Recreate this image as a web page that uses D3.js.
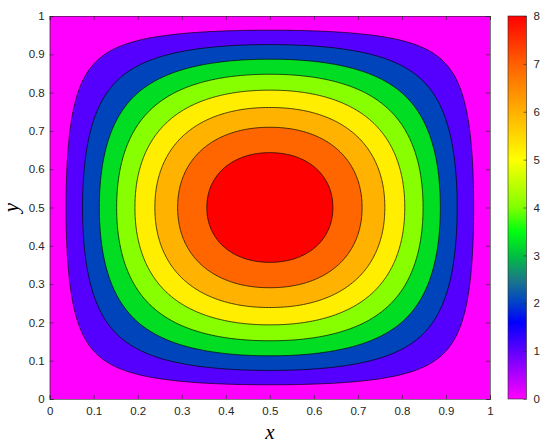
<html>
<head>
<script src="https://d3js.org/d3.v7.min.js"></script>
<style>
  body { margin: 0; background: #fff; }
  svg { font-family: "Liberation Sans", Arial, sans-serif; }
</style>
</head>
<body>
<script>
// profile of the field along the midline y = 0.5 (left half, mirrored)
const profileX = [0, 0.025, 0.05, 0.075, 0.1, 0.125, 0.15, 0.175, 0.2, 0.225, 0.25,
                  0.275, 0.3, 0.325, 0.35, 0.375, 0.4, 0.425, 0.45, 0.475, 0.5];
const profileZ = [0, 0.675, 1.345, 2.01, 2.668, 3.315, 3.948, 4.56, 5.148, 5.705, 6.23,
                  6.718, 7.163, 7.563, 7.913, 8.21, 8.453, 8.64, 8.77, 8.845, 8.868];
const peak = 8.868;

const levels = [1, 2, 3, 4, 5, 6, 7, 8];
const bandColors = ['#ff00ff', '#5500ff', '#0044bb', '#00dd22', '#88ff00',
                    '#ffee00', '#ffb300', '#ff6600', '#ff0000'];

const cbarStops = [0, 1, 1.6, 2, 2.5, 3, 3.5, 4, 5, 6, 7, 8];
const cbarColors = ['#ff00ff', '#6000ff', '#0000ff', '#0040c8', '#1a7a86', '#00c040',
                    '#00ff10', '#80ff00', '#ffff00', '#ffb000', '#ff6000', '#ff0000'];

const xTicks = [0, 0.1, 0.2, 0.3, 0.4, 0.5, 0.6, 0.7, 0.8, 0.9, 1];
const yTicks = [0, 0.1, 0.2, 0.3, 0.4, 0.5, 0.6, 0.7, 0.8, 0.9, 1];
const cbarTicks = [0, 1, 2, 3, 4, 5, 6, 7, 8];

const w = 550, h = 446;
const pLeft = 49.7, pRight = 490, pTop = 16, pBottom = 399;
const axisCol = '#262626';

const svg = d3.select('body').append('svg').attr('width', w).attr('height', h);

const xScale = d3.scaleLinear().domain([0, 1]).range([pLeft, pRight]);
const yScale = d3.scaleLinear().domain([0, 1]).range([pBottom, pTop]);

// smooth (monotone cubic) reading of the midline profile, mirrored about 0.5
const px = profileX.concat(profileX.slice(0, -1).reverse().map(d => 1 - d));
const pz = profileZ.concat(profileZ.slice(0, -1).reverse());
const slopes = px.slice(0, -1).map((x, i) => (pz[i + 1] - pz[i]) / (px[i + 1] - x));
const tang = px.map((x, i) => {
  if (i === 0) return slopes[0];
  if (i === px.length - 1) return slopes[slopes.length - 1];
  const a = slopes[i - 1], b = slopes[i];
  if (a * b <= 0) return 0;
  return (a + b) / 2;
});
function prof(x) {
  if (x <= 0 || x >= 1) return 0;
  const i = Math.min(d3.bisectRight(px, x) - 1, px.length - 2);
  const hh = px[i + 1] - px[i], t = (x - px[i]) / hh;
  const t2 = t * t, t3 = t2 * t;
  return (2 * t3 - 3 * t2 + 1) * pz[i] + (t3 - 2 * t2 + t) * hh * tang[i]
       + (-2 * t3 + 3 * t2) * pz[i + 1] + (t3 - t2) * hh * tang[i + 1];
}

// separable field on a grid
const n = 301;
const grid = new Array(n * n);
for (let j = 0; j < n; j++) {
  const yv = 1 - j / (n - 1);
  for (let i = 0; i < n; i++) {
    const xv = i / (n - 1);
    grid[j * n + i] = prof(xv) * prof(yv) / peak;
  }
}

const contours = d3.contours().size([n, n]).thresholds(levels)(grid);

const toPx = d3.geoTransform({
  point: function(gx, gy) {
    const xv = Math.max(0, Math.min(1, (gx - 0.5) / (n - 1)));
    const yv = Math.max(0, Math.min(1, 1 - (gy - 0.5) / (n - 1)));
    this.stream.point(xScale(xv), yScale(yv));
  }
});
const path = d3.geoPath(toPx);

const plot = svg.append('g');
plot.append('rect')
  .attr('x', pLeft).attr('y', pTop)
  .attr('width', pRight - pLeft).attr('height', pBottom - pTop)
  .attr('fill', bandColors[0]);

plot.selectAll('path.band')
  .data(contours)
  .join('path')
  .attr('class', 'band')
  .attr('d', path)
  .attr('fill', (d, i) => bandColors[i + 1])
  .attr('stroke', '#000')
  .attr('stroke-width', 0.7);

// axes with inward ticks on all four sides
const xAxis = d3.axisBottom(xScale).tickValues(xTicks).tickSize(-4).tickPadding(8)
  .tickFormat(d3.format('~g'));
const yAxis = d3.axisLeft(yScale).tickValues(yTicks).tickSize(-4).tickPadding(5)
  .tickFormat(d3.format('~g'));

const gx = svg.append('g').attr('transform', `translate(0,${pBottom})`).call(xAxis);
const gy = svg.append('g').attr('transform', `translate(${pLeft},0)`).call(yAxis);
const gxt = svg.append('g').attr('transform', `translate(0,${pTop})`)
  .call(d3.axisTop(xScale).tickValues(xTicks).tickSize(-4).tickFormat(''));
const gyr = svg.append('g').attr('transform', `translate(${pRight},0)`)
  .call(d3.axisRight(yScale).tickValues(yTicks).tickSize(-4).tickFormat(''));

[gx, gy, gxt, gyr].forEach(g => {
  g.select('.domain').attr('stroke', axisCol).attr('stroke-width', 0.6);
  g.selectAll('.tick line').attr('stroke', axisCol).attr('stroke-width', 0.6);
  g.selectAll('.tick text').attr('fill', axisCol).style('font-size', '11.5px')
    .style('font-family', '"Liberation Sans", Arial, sans-serif');
});

svg.append('text')
  .attr('x', (pLeft + pRight) / 2).attr('y', 439)
  .attr('text-anchor', 'middle')
  .style('font-family', '"Liberation Serif", "DejaVu Serif", serif')
  .style('font-style', 'italic')
  .style('font-size', '21px')
  .attr('fill', '#000')
  .text('x');

svg.append('text')
  .attr('transform', `translate(18,${(pTop + pBottom) / 2}) rotate(-90)`)
  .attr('text-anchor', 'middle')
  .style('font-family', '"Liberation Serif", "DejaVu Serif", serif')
  .style('font-style', 'italic')
  .style('font-size', '21px')
  .attr('fill', '#000')
  .text('y');

// colorbar
const cbLeft = 508, cbRight = 526.5;
const cScale = d3.scaleLinear().domain([0, 8]).range([pBottom, pTop]);

const grad = svg.append('defs').append('linearGradient')
  .attr('id', 'cbar').attr('x1', 0).attr('y1', 1).attr('x2', 0).attr('y2', 0);
grad.selectAll('stop')
  .data(cbarStops)
  .join('stop')
  .attr('offset', d => d / 8)
  .attr('stop-color', (d, i) => cbarColors[i]);

svg.append('rect')
  .attr('x', cbLeft).attr('y', pTop)
  .attr('width', cbRight - cbLeft).attr('height', pBottom - pTop)
  .attr('fill', 'url(#cbar)')
  .attr('stroke', axisCol).attr('stroke-width', 0.6);

const cAxis = svg.append('g').attr('transform', `translate(${cbRight},0)`)
  .call(d3.axisRight(cScale).tickValues(cbarTicks).tickSize(-3).tickPadding(7)
    .tickFormat(d3.format('d')));
cAxis.select('.domain').remove();
cAxis.selectAll('.tick line').attr('stroke', axisCol).attr('stroke-width', 0.6);
cAxis.selectAll('.tick text').attr('fill', axisCol).style('font-size', '11.5px')
  .style('font-family', '"Liberation Sans", Arial, sans-serif');
</script>
</body>
</html>
